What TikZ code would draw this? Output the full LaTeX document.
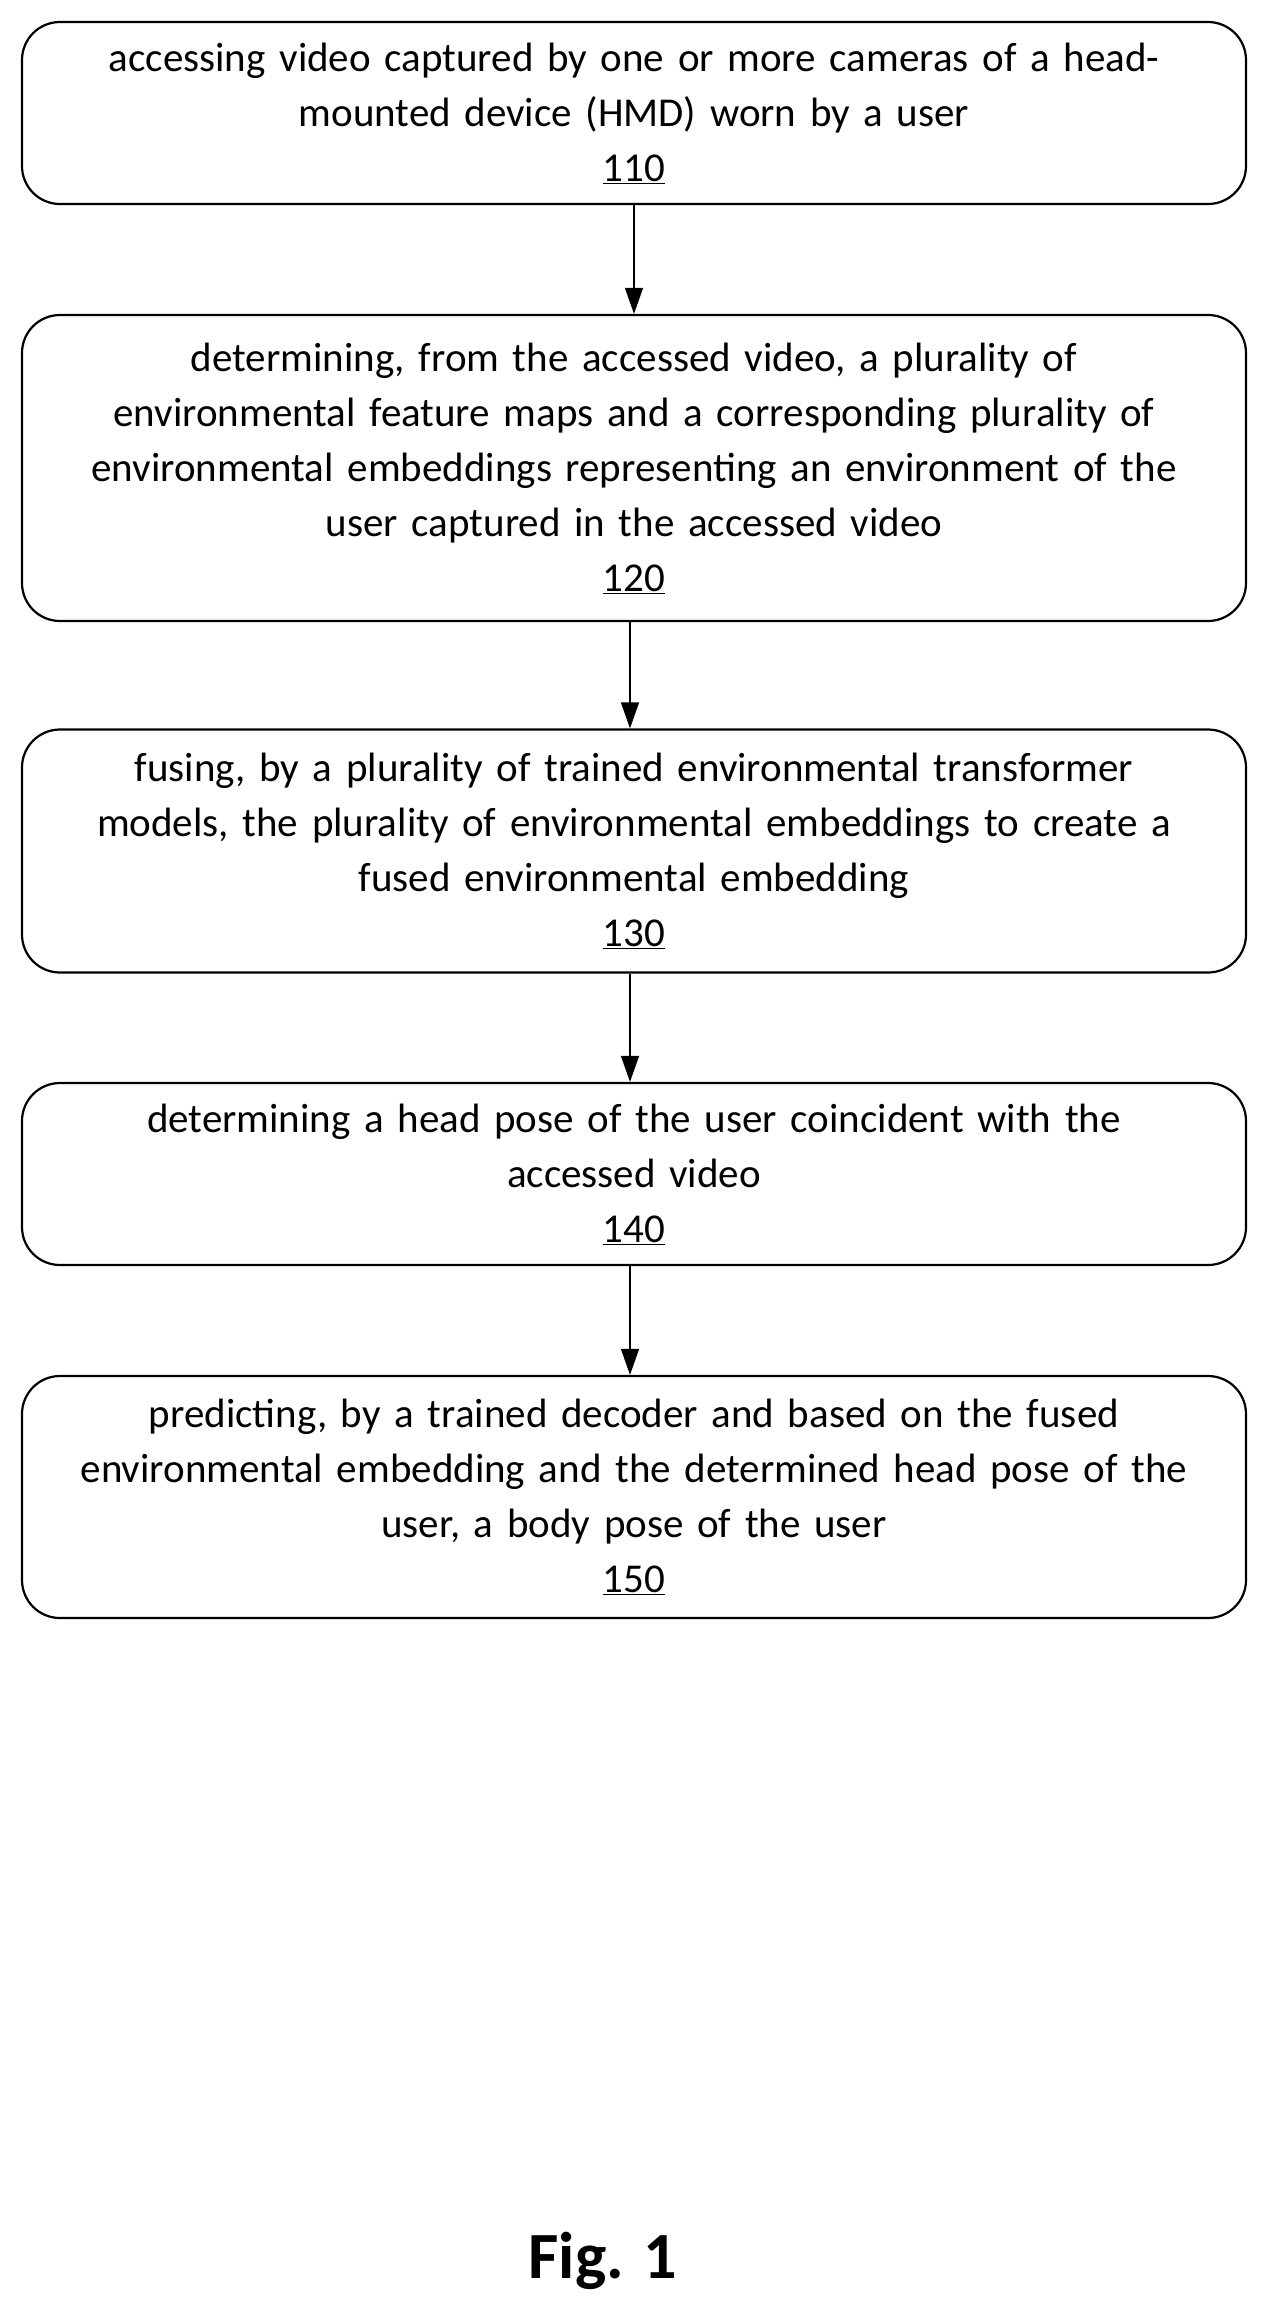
\documentclass[tikz,border=0pt]{standalone}
\usepackage{fontspec}
\setmainfont{Carlito}
\usetikzlibrary{arrows.meta}
\begin{document}
\begin{tikzpicture}[x=1pt,y=1pt,
  stepbox/.style={draw,line width=2.2pt,rounded corners=38pt,minimum width=1224pt,text width=1215pt,align=center,inner sep=0pt,font=\fontsize{41}{55}\selectfont},
  arr/.style={-{Triangle[length=26pt,width=18pt]},line width=1.2pt}]
\useasboundingbox (0,0) rectangle (1271,-2324);
\node[stepbox,minimum height=182pt] (b1) at (634,-113) {accessing video captured by one or more cameras of a head-\\mounted device (HMD) worn by a user\\\underline{110}};
\node[stepbox,minimum height=306pt] (b2) at (634,-468) {determining, from the accessed video, a plurality of\\environmental feature maps and a corresponding plurality of\\environmental embeddings representing an environment of the\\user captured in the accessed video\\\underline{120}};
\node[stepbox,minimum height=243pt] (b3) at (634,-851) {fusing, by a plurality of trained environmental transformer\\models, the plurality of environmental embeddings to create a\\fused environmental embedding\\\underline{130}};
\node[stepbox,minimum height=182pt] (b4) at (634,-1174) {determining a head pose of the user coincident with the\\accessed video\\\underline{140}};
\node[stepbox,minimum height=242pt] (b5) at (634,-1497) {predicting, by a trained decoder and based on the fused\\environmental embedding and the determined head pose of the\\user, a body pose of the user\\\underline{150}};
\node[font=\bfseries\fontsize{66}{70}\selectfont] (fig) at (603,-2261) {Fig. 1};
\draw[arr] (b1.south -| 634,0) -- (b2.north -| 634,0);
\draw[arr] (b2.south -| 630,0) -- (b3.north -| 630,0);
\draw[arr] (b3.south -| 630,0) -- (b4.north -| 630,0);
\draw[arr] (b4.south -| 630,0) -- (b5.north -| 630,0);
\end{tikzpicture}
\end{document}
